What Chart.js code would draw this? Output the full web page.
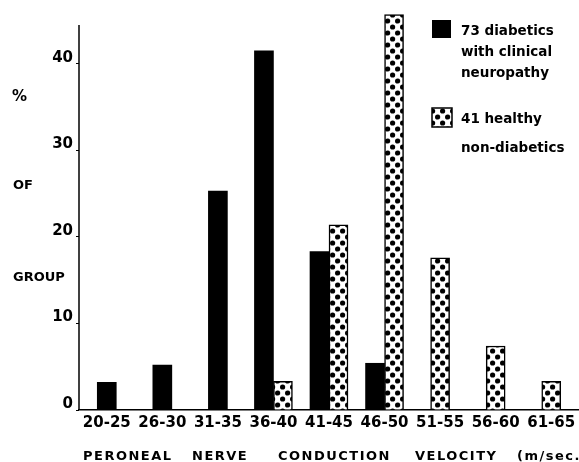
<!DOCTYPE html>
<html>
<head>
<meta charset="utf-8">
<script src="https://cdn.jsdelivr.net/npm/chart.js@4"></script>
<style>
  html, body { margin: 0; padding: 0; background: #fff; }
  #wrap { width: 579px; height: 462px; }
</style>
</head>
<body>
<div id="wrap"><canvas id="chart"></canvas></div>
<script>
// Данные (% от группы)
const categories = ['20-25', '26-30', '31-35', '36-40', '41-45', '46-50', '51-55', '56-60', '61-65'];
const diabetics = [3.2, 5.2, 25.3, 41.5, 18.3, 5.4, null, null, null];
const healthy = [null, null, null, 3.3, 21.4, 45.7, 17.6, 7.4, 3.3];
const yTicks = [0, 10, 20, 30, 40];
const yTitleWords = ['%', 'OF', 'GROUP'];
const legendDiabetic = ['73 diabetics', 'with clinical', 'neuropathy'];
const legendHealthy = ['41 healthy', 'non-diabetics'];
const xTitle = 'PERONEAL NERVE CONDUCTION VELOCITY (m/sec.)';

const FONT = '"DejaVu Sans", sans-serif';

// Точечная штриховка для здоровых
const makeDots = () => {
  const c = document.createElement('canvas');
  c.width = 10; c.height = 12;
  const g = c.getContext('2d');
  g.fillStyle = '#fff';
  g.fillRect(0, 0, 10, 12);
  g.fillStyle = '#000';
  // точки + их копии через край плитки
  [[2.6, 3], [7.6, 9], [7.6, -3], [-2.4, 9], [12.6, 3], [2.6, 15]].forEach(([x, y]) => {
    g.beginPath(); g.arc(x, y, 2.6, 0, Math.PI * 2); g.fill();
  });
  return g.createPattern(c, 'repeat');
};
const dots = makeDots();

const textPlugin = {
  id: 'texts',
  afterDraw(chart) {
    const { ctx, chartArea, scales } = chart;
    const y = scales.y;
    ctx.save();
    // вертикальная ось только до ~44.5
    ctx.strokeStyle = '#000';
    ctx.lineWidth = 1.5;
    ctx.beginPath();
    ctx.moveTo(chartArea.left, y.getPixelForValue(0));
    ctx.lineTo(chartArea.left, y.getPixelForValue(44.5));
    ctx.stroke();

    ctx.fillStyle = '#000';
    ctx.textBaseline = 'middle';
    ctx.textAlign = 'left';
    ctx.font = 'bold 13px ' + FONT;
    const yWordPos = [97, 186, 278];
    yTitleWords.forEach((w, i) => {
      ctx.font = (i === 0 ? 'bold 15px ' : 'bold 13px ') + FONT;
      ctx.fillText(w, i === 0 ? 12 : 13, yWordPos[i]);
    });

    // легенда
    ctx.font = 'bold 13.5px ' + FONT;
    ctx.fillRect(432, 20, 19, 18);
    legendDiabetic.forEach((t, i) => ctx.fillText(t, 461, 31 + i * 21));
    ctx.fillStyle = dots;
    ctx.fillRect(432, 108, 20, 19);
    ctx.strokeRect(432, 108, 20, 19);
    ctx.fillStyle = '#000';
    ctx.fillText(legendHealthy[0], 461, 119);
    ctx.fillText(legendHealthy[1], 461, 148);

    // подпись оси X — слова вразрядку
    ctx.font = 'bold 13px ' + FONT;
    ctx.letterSpacing = '1.5px';
    const wordX = [83, 192, 278, 415, 517];
    xTitle.split(' ').forEach((w, i) => ctx.fillText(w, wordX[i], 457));
    ctx.restore();
  }
};

new Chart(document.getElementById('chart'), {
  type: 'bar',
  data: {
    labels: categories,
    datasets: [
      {
        label: legendDiabetic.join(' '),
        data: diabetics,
        backgroundColor: '#000',
        borderWidth: 0
      },
      {
        label: legendHealthy.join(' '),
        data: healthy,
        backgroundColor: dots,
        borderColor: '#000',
        borderWidth: 1.5
      }
    ]
  },
  options: {
    responsive: true,
    maintainAspectRatio: false,
    animation: false,
    skipNull: true,
    barThickness: 19,
    layout: { padding: { top: 1, left: 0, right: 0, bottom: 0 } },
    plugins: {
      legend: { display: false },
      tooltip: { enabled: false }
    },
    scales: {
      x: {
        grid: { display: false },
        border: { display: true, color: '#000', width: 1.5 },
        ticks: {
          color: '#000',
          padding: -4,
          maxRotation: 0,
          autoSkip: false,
          font: { family: FONT, size: 15, weight: 'bold' }
        },
        afterFit: (scale) => { scale.height = 52; }
      },
      y: {
        min: 0,
        max: 46,
        border: { display: false },
        grid: { drawOnChartArea: false, drawTicks: true, tickLength: 3, color: '#000', lineWidth: 1 },
        afterBuildTicks: (scale) => { scale.ticks = yTicks.map(v => ({ value: v })); },
        ticks: {
          color: '#000',
          padding: 3,
          labelOffset: -6,
          font: { family: FONT, size: 15, weight: 'bold' }
        },
        afterFit: (scale) => { scale.width = 79; }
      }
    }
  },
  plugins: [textPlugin]
});
</script>
</body>
</html>
